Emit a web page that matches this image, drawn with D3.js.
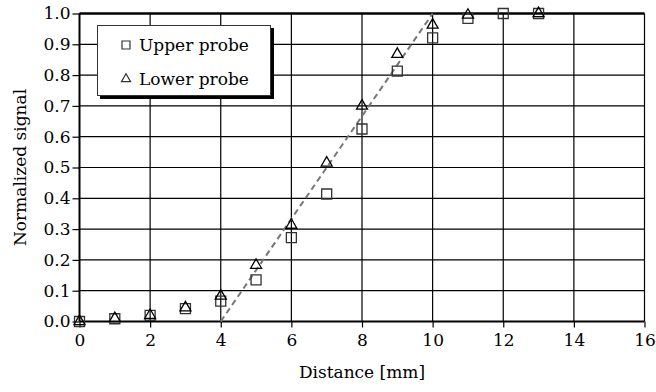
<!DOCTYPE html>
<html><head><meta charset="utf-8">
<script src="https://cdn.jsdelivr.net/npm/d3@7"></script>
<style>body{margin:0;background:#fff;}</style>
</head><body>
<svg id="c" width="656" height="392"></svg>
<script>
const distance = [0,1,2,3,4,5,6,7,8,9,10,11,12,13];
const upperProbe = [0.0,0.009,0.02,0.042,0.066,0.135,0.272,0.414,0.625,0.813,0.921,0.984,1.0,1.0];
const lowerProbe = [0.0,0.01,0.02,0.045,0.083,0.183,0.313,0.515,0.70,0.868,0.963,0.995,null,1.0];
const fitX = [4,10];
const fitY = [0,1.0];
const xTicks = [0,2,4,6,8,10,12,14,16];
const yTicks = [0,0.1,0.2,0.3,0.4,0.5,0.6,0.7,0.8,0.9,1.0];
const legendLabels = ["Upper probe","Lower probe"];

const FONT = "DejaVu Serif";
const svg = d3.select("#c");
const L=79.5, R=644.5, T=13.5, B=321.5;
const x = d3.scaleLinear().domain([0,16]).range([L,R]);
const y = d3.scaleLinear().domain([0,1]).range([B,T]);

// grid
svg.append("g").selectAll("line").data(xTicks.slice(1)).join("line")
  .attr("x1",d=>x(d)).attr("x2",d=>x(d)).attr("y1",T).attr("y2",B)
  .attr("stroke","#000").attr("stroke-width",1.2);
svg.append("g").selectAll("line").data(yTicks.slice(1)).join("line")
  .attr("x1",L).attr("x2",R).attr("y1",d=>y(d)).attr("y2",d=>y(d))
  .attr("stroke","#000").attr("stroke-width",1.2);
svg.append("line").attr("x1",L).attr("x2",R).attr("y1",T).attr("y2",T).attr("stroke","#000").attr("stroke-width",2.5);

// axes
const xAxis = svg.append("g").attr("transform",`translate(0,${B})`)
  .call(d3.axisBottom(x).tickValues(xTicks).tickSize(6).tickPadding(6).tickFormat(d3.format("d")));
const yAxis = svg.append("g").attr("transform",`translate(${L},0)`)
  .call(d3.axisLeft(y).tickValues(yTicks).tickSize(7).tickPadding(2).tickFormat(d3.format(".1f")));
[xAxis,yAxis].forEach(a=>{
  a.attr("font-family",FONT).attr("font-size",17);
  a.select(".domain").attr("stroke","#000").attr("stroke-width",2);
  a.selectAll(".tick line").attr("stroke","#000").attr("stroke-width",1.2);
  a.selectAll("text").attr("font-family",FONT).attr("font-size",17).attr("fill","#000");
});
xAxis.select(".domain").attr("d",`M${L},0H${R}`);
yAxis.select(".domain").attr("d",`M0,${T}V${B}`);

// fit line
svg.append("line").attr("x1",x(fitX[0])).attr("y1",y(fitY[0])).attr("x2",x(fitX[1])).attr("y2",y(fitY[1]))
  .attr("stroke","#777").attr("stroke-width",2).attr("stroke-dasharray","6,4");

// markers
const sq = d3.symbol().type(d3.symbolSquare).size(100);
const tri = d3.symbol().type(d3.symbolTriangle).size(52);
svg.append("g").selectAll("path").data(distance.map((d,i)=>[d,upperProbe[i]]).filter(d=>d[1]!=null)).join("path")
  .attr("d",sq).attr("transform",d=>`translate(${x(d[0])},${y(d[1])})`)
  .attr("fill","none").attr("stroke","#333").attr("stroke-width",1.3);
svg.append("g").selectAll("path").data(distance.map((d,i)=>[d,lowerProbe[i]]).filter(d=>d[1]!=null)).join("path")
  .attr("d",tri).attr("transform",d=>`translate(${x(d[0])},${y(d[1])})`)
  .attr("fill","none").attr("stroke","#000").attr("stroke-width",1.3);

// legend
const lg = svg.append("g");
lg.append("rect").attr("x",100).attr("y",28).attr("width",174).attr("height",71).attr("fill","#000");
lg.append("rect").attr("x",97.5).attr("y",25.5).attr("width",173).attr("height",70).attr("fill","#fff").attr("stroke","#333").attr("stroke-width",1);
lg.append("path").attr("d",d3.symbol().type(d3.symbolSquare).size(64)).attr("transform","translate(126,45)")
  .attr("fill","none").attr("stroke","#333").attr("stroke-width",1.2);
lg.append("path").attr("d",d3.symbol().type(d3.symbolTriangle).size(36)).attr("transform","translate(126,79)")
  .attr("fill","none").attr("stroke","#333").attr("stroke-width",1.2);
lg.selectAll("text.lt").data(legendLabels).join("text").attr("class","lt")
  .attr("x",139).attr("y",(d,i)=>51+i*34).attr("font-family",FONT).attr("font-size",17).attr("fill","#000").text(d=>d);

// axis titles
svg.append("text").attr("x",(L+R)/2).attr("y",378).attr("text-anchor","middle").attr("font-family",FONT).attr("font-size",17).text("Distance [mm]");
svg.append("text").attr("transform",`translate(26,${(T+B)/2}) rotate(-90)`).attr("text-anchor","middle").attr("font-family",FONT).attr("font-size",17).text("Normalized signal");
</script>
</body></html>
